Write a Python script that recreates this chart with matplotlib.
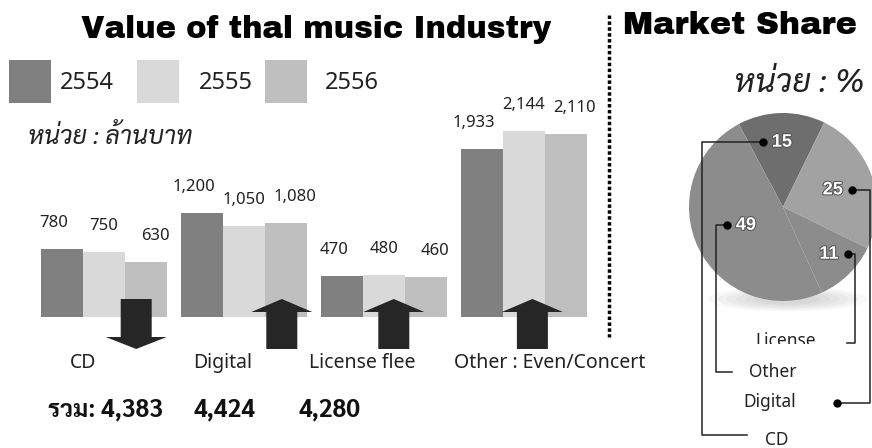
import matplotlib
matplotlib.use('Agg')
import matplotlib.pyplot as plt
from matplotlib import font_manager
from matplotlib.patches import FancyArrow, Rectangle, Ellipse
import matplotlib.patheffects as pe
import numpy as np

# ---------------- data ----------------
categories = ['CD', 'Digital', 'License flee', 'Other : Even/Concert']
years = ['2554', '2555', '2556']
values_2554 = [780, 1200, 470, 1933]
values_2555 = [750, 1050, 480, 2144]
values_2556 = [630, 1080, 460, 2110]
trend = ['down', 'up', 'up', 'up']
share_labels = ['CD', 'Digital', 'License', 'Other']
share_values = [15, 25, 11, 49]

# ---------------- styles ----------------
bar_colors = ['#808080', '#d9d9d9', '#bfbfbf']
pie_colors = ['#6e6e6e', '#a2a2a2', '#8c8c8c', '#8c8c8c']
arrow_color = '#262626'

names = {f.name for f in font_manager.fontManager.ttflist}


def pick(cands, default='DejaVu Sans'):
    for c in cands:
        if c in names:
            return c
    return default


TITLE_FONT = pick(['Archivo Black', 'Rubik', 'Montserrat', 'Poppins', 'Roboto', 'Lato'])
THAI_FONT = pick(['Sarabun', 'Noto Sans Thai Looped', 'IBM Plex Sans Thai Looped', 'Anuphan'])
THAI = [THAI_FONT, 'Noto Sans', 'DejaVu Sans']
LATIN = ['Noto Sans', 'DejaVu Sans']

W, H = 872, 448
fig = plt.figure(figsize=(W / 100, H / 100), dpi=100)

# ---------------- bar chart ----------------
base_px = 317
px_per_group = 140
g0 = 104
ymax = 2500
ax_h = 217
ax = fig.add_axes([0, (H - base_px) / H, 600 / W, ax_h / H])
ax.set_xlim(-g0 / px_per_group, (600 - g0) / px_per_group)
ax.set_ylim(0, ymax)
ax.axis('off')
ypx = ax_h / ymax  # px per value unit

bw = 42 / px_per_group
series = [values_2554, values_2555, values_2556]
label_dx = [-8, 0, 9]
x = np.arange(len(categories))
for j, vals in enumerate(series):
    xs = x + (j - 1) * bw
    ax.bar(xs, vals, width=bw, color=bar_colors[j], linewidth=0, zorder=2)
    for xi, v in zip(xs, vals):
        ax.annotate(f'{v:,}', (xi, v), xytext=(label_dx[j], 26), textcoords='offset pixels',
                    ha='center', va='center', fontsize=12, color='#222222', family=LATIN)

# trend arrows
arrow_dx = [0.23, 0.27, 0.07, 0.06]
top_v = 18 / ypx
bot_v = -32 / ypx
for i, t in enumerate(trend):
    xc = i + arrow_dx[i]
    if t == 'up':
        a = FancyArrow(xc, bot_v, 0, top_v - bot_v, width=31 / px_per_group,
                       head_width=61 / px_per_group, head_length=13 / ypx,
                       length_includes_head=True, color=arrow_color, lw=0, zorder=3)
    else:
        a = FancyArrow(xc, top_v, 0, bot_v - top_v, width=31 / px_per_group,
                       head_width=61 / px_per_group, head_length=12 / ypx,
                       length_includes_head=True, color=arrow_color, lw=0, zorder=3)
    a.set_clip_on(False)
    ax.add_patch(a)

cat_dx = [-21, -21, -22, 26]
for i, c in enumerate(categories):
    ax.annotate(c, (i, 0), xytext=(cat_dx[i], -46), textcoords='offset pixels',
                ha='center', va='center', fontsize=14, color='#222222',
                family=LATIN, annotation_clip=False)

# ---------------- pie chart ----------------
pcx, pcy, R = 783, 207, 94
axp = fig.add_axes([(pcx - R) / W, (H - pcy - R) / H, 2 * R / W, 2 * R / H])
for k in range(6):
    axp.add_patch(Ellipse((0.05, -0.98), 1.7 - 0.2 * k, 0.26 - 0.03 * k, color='#888888',
                          alpha=0.06, lw=0, clip_on=False, zorder=0))
wedges, _ = axp.pie(share_values, colors=pie_colors, startangle=118, counterclock=False,
                    radius=1, wedgeprops=dict(linewidth=0, zorder=1))
axp.set_xlim(-1, 1)
axp.set_ylim(-1, 1)
axp.axis('off')

# ---------------- overlay (pixel coords) ----------------
ov = fig.add_axes([0, 0, 1, 1])
ov.set_xlim(0, W)
ov.set_ylim(H, 0)
ov.axis('off')
ov.patch.set_visible(False)

HEAVY = dict(family=[TITLE_FONT, 'DejaVu Sans'], fontweight='black', color='black')
ov.text(316, 29, 'Value of thal music Industry', ha='center', va='center', fontsize=22, **HEAVY)
ov.text(740, 25, 'Market Share', ha='center', va='center', fontsize=23, **HEAVY)

# legend
legend_sq_x = [9, 137, 265]
legend_txt_x = [60, 199, 325]
for j, yr in enumerate(years):
    ov.add_patch(Rectangle((legend_sq_x[j], 60), 42, 43, color=bar_colors[j], lw=0))
    ov.text(legend_txt_x[j], 83, yr, ha='left', va='center', fontsize=17,
            color='#222222', family=LATIN)

ov.text(28, 138, 'หน่วย : ล้านบาท', ha='left', va='center', fontsize=18,
        style='italic', color='#222222', family=THAI)
ov.text(864, 83, 'หน่วย : %', ha='right', va='center', fontsize=23.5,
        style='italic', color='#222222', family=THAI)

# totals
totals = [sum(v) for v in series]
total_x = [48, 193, 298]
for k, t in enumerate(totals):
    s = f'{t:,}' if k else f'รวม: {t:,}'
    ov.text(total_x[k], 410, s, ha='left', va='center', fontsize=17.5, fontweight='bold',
            color='#111111', family=THAI)

# dotted divider
ov.plot([609, 609], [15, 337], color='black', lw=2.5, linestyle=(0, (1, 0.7)),
        solid_capstyle='butt', dash_capstyle='butt')

# pie numbers and leaders
label_r = [0.69, 0.56, 0.70, 0.44]
side = [-1, 1, 1, -1]
route_x = [702, 870, 855, 716]
line_y = [435, 403, 343, 372]
end_x = [747, 837, 847, 732]
name_x = [777, 770, 786, 773]
name_y = [440, 402, 341, 372]
for k, w in enumerate(wedges):
    mid = np.deg2rad((w.theta1 + w.theta2) / 2)
    dx, dy = axp.transData.transform((label_r[k] * np.cos(mid), label_r[k] * np.sin(mid)))
    lx, ly = dx, H - dy
    ov.text(lx, ly, f'{share_values[k]}', ha='center', va='center', fontsize=13,
            fontweight='bold', color='white', family=['Liberation Sans', 'DejaVu Sans'],
            path_effects=[pe.withStroke(linewidth=1.5, foreground='#555555')], zorder=5)
    dotx = lx + side[k] * 19
    ov.plot([dotx, route_x[k], route_x[k], end_x[k]], [ly, ly, line_y[k], line_y[k]],
            color='#222222', lw=1.1, zorder=4)
    ov.plot([dotx], [ly], 'o', color='black', ms=5, zorder=5)
    if k == 1:
        ov.plot([end_x[k]], [line_y[k]], 'o', color='black', ms=5, zorder=5)

# License label is partly hidden by the next label box
ov.text(name_x[2], name_y[2], share_labels[2], ha='center', va='center', fontsize=12.5,
        color='#222222', family=LATIN, zorder=4)
ov.add_patch(Rectangle((737, 344), 97, 18, color='white', lw=0, zorder=4.5))
for k in [0, 1, 3]:
    ov.text(name_x[k], name_y[k], share_labels[k], ha='center', va='center', fontsize=12.5,
            color='#222222', family=LATIN, zorder=5)

fig.savefig('out.png', dpi=100)
